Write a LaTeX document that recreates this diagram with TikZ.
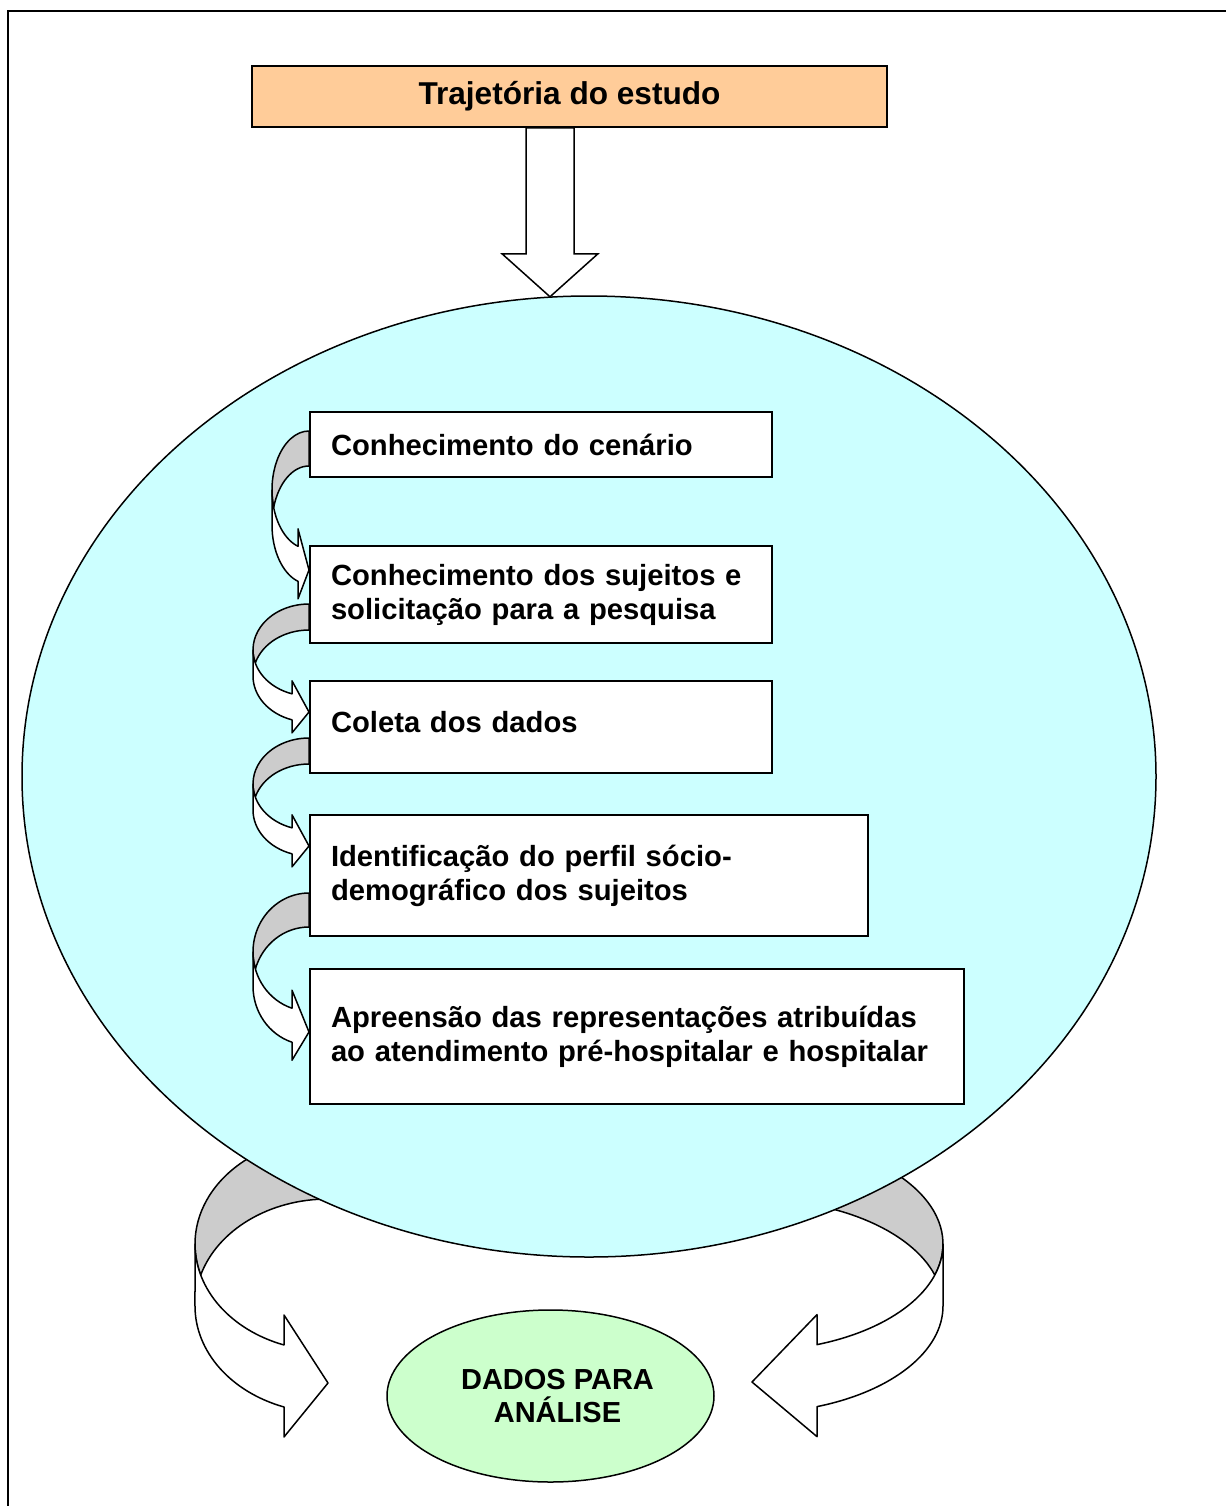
\documentclass[tikz,border=0pt]{standalone}
\usepackage{fontspec}
\setmainfont{Liberation Sans}
\usetikzlibrary{positioning,shapes.geometric}
\definecolor{titlefill}{HTML}{FFCC99}
\definecolor{roundfill}{HTML}{CCFFFF}
\definecolor{resultfill}{HTML}{CCFFCC}
\definecolor{bandgray}{HTML}{CCCCCC}

% curved block arrow: position, x radius, y radius, band, head length, barb, tip
\newcommand{\bentarrow}[8]{%
	\begin{scope}[shift={#1}, #8]
		\pgfmathsetmacro\bendTh{acos(-#5/#2)}
		\pgfmathsetmacro\bendA{180-asin(#4/(2*#3))}
		\pgfmathsetmacro\bendB{180+asin(#4/(2*#3))}
		\pgfmathsetmacro\bendY{#3*sin(\bendTh)}
		\filldraw[band, fill=bandgray]
			(0,-#3) arc[start angle=270, end angle=\bendA, x radius=#2, y radius=#3]
			arc[start angle=\bendB, end angle=270, x radius=#2, y radius=#3] -- cycle;
		\filldraw[band, fill=white]
			(-#2,0) arc[start angle=180, end angle=\bendTh, x radius=#2, y radius=#3]
			-- ++(0,-#6) -- (0,#7) -- (-#5,\bendY+#4+#6) -- (-#5,\bendY+#4)
			arc[start angle=\bendTh, end angle=180, x radius=#2, y radius=#3] -- cycle;
	\end{scope}}

\begin{document}
\begin{tikzpicture}[
		x=0.5pt, y=-0.5pt,
		every node/.style={font=\bfseries\fontsize{14.6}{17}\selectfont},
		band/.style={draw=black, line width=0.75pt, line join=round},
		stepbox/.style={
			draw,
			fill=white,
			line width=0.75pt,
			align=left,
			outer sep=0pt,
			inner xsep=10.5pt,
			inner ysep=0pt
		},
		titlebox/.style={
			draw,
			fill=titlefill,
			line width=0.75pt,
			font=\bfseries\fontsize{15.8}{19}\selectfont
		},
		blockarrow/.style={draw, fill=white, line width=0.75pt, line join=miter}
	]
		\useasboundingbox (0,0) rectangle (1226,1506);
		\draw[line width=1pt] (8,1506) -- (8,11) -- (1226,11);

		% arrows to the result, behind the big ellipse
		\bentarrow{(328,1244)}{133}{107}{62}{44}{30}{139}{}
		\bentarrow{(752,1244)}{191}{107}{62}{65}{30}{138}{xscale=-1}

		\node[ellipse, draw, fill=roundfill, line width=0.75pt,
			minimum width=567pt, minimum height=480.5pt] (estudo) at (589,776.5) {};

		\node[titlebox, minimum width=317.5pt, minimum height=30.5pt]
			(trajetoria) at (569.5,96.5) {Trajetória do estudo};
		\draw[blockarrow] ([xshift=-21.75pt]trajetoria.south) -- ++(0,126) -- ++(-24,0)
			-- ++(48,43) -- ++(48,-43) -- ++(-24,0) -- ++(0,-126) -- cycle;

		% steps
		\bentarrow{(309,490)}{37}{59}{35}{11}{17.5}{80}{}
		\bentarrow{(309,650)}{56}{46}{26}{17}{13}{62}{}
		\bentarrow{(309,784)}{56}{46}{26}{17}{13}{62}{}
		\bentarrow{(309,952)}{56}{59}{34}{17}{18}{80}{}

		\node[stepbox, anchor=north west, text width=210pt, minimum height=32.5pt]
			(cenario) at (310,412) {Conhecimento do cenário};
		\node[stepbox, below=34.5pt of cenario.south west, anchor=north west,
			text width=210pt, minimum height=48.5pt]
			(sujeitos) {Conhecimento dos sujeitos e\\solicitação para a pesquisa};
		\node[stepbox, below=19pt of sujeitos.south west, anchor=north west,
			text width=210pt, minimum height=46pt, text depth=5pt]
			(coleta) {Coleta dos dados};
		\node[stepbox, below=21pt of coleta.south west, anchor=north west,
			text width=258pt, minimum height=60.5pt]
			(perfil) {Identificação do perfil sócio-\\demográfico dos sujeitos};
		\node[stepbox, below=16.5pt of perfil.south west, anchor=north west,
			text width=306pt, minimum height=67.5pt]
			(apreensao) {Apreensão das representações atribuídas\\ao atendimento pré-hospitalar e hospitalar};

		\node[ellipse, draw, fill=resultfill, line width=0.75pt, align=center,
			minimum width=163.5pt, minimum height=86pt, inner sep=0pt,
			font=\bfseries\fontsize{14.5}{16.5}\selectfont]
			(analise) at (550.5,1396) {\hspace*{7pt}DADOS PARA\\\hspace*{7pt}ANÁLISE};
	\end{tikzpicture}
\end{document}
